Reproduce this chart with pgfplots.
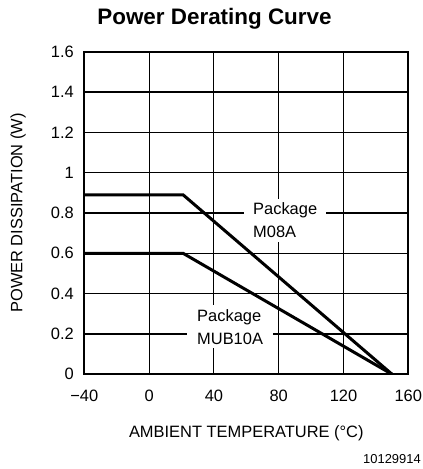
\documentclass[border=0pt]{standalone}
\usepackage{fontspec}
\setmainfont{Liberation Sans}
\usepackage{pgfplots}
\pgfplotsset{compat=1.18}

\newcommand{\lblfont}{\fontsize{16.5}{23}\selectfont}

\begin{document}
\begin{tikzpicture}
  \path[use as bounding box] (0,0) rectangle (423bp,469bp);

  % titre et numéro de figure
  \node[anchor=base, font=\fontsize{22.5}{27}\selectfont\bfseries] at (214.5bp,444bp) {Power Derating Curve};
  \node[anchor=base east, inner sep=0pt, font=\fontsize{13}{15}\selectfont] at (421bp,6bp) {10129914};

  \begin{axis}[
    at={(84.3bp,94.7bp)}, anchor=south west,
    scale only axis, width=324bp, height=322.6bp,
    xmin=-40, xmax=160, ymin=0, ymax=1.6,
    xtick={-40,0,40,80,120,160},
    xticklabels={−40,0,40,80,120,160},
    ytick={0,0.2,0.4,0.6,0.8,1,1.2,1.4,1.6},
    grid=major,
    major grid style={black, line width=1.1bp},
    axis line style={line width=1.8bp},
    major tick length=0pt,
    /pgf/number format/assume math mode=true,
    tick label style={font=\lblfont},
    xticklabel style={anchor=base, yshift=-27.4bp},
    yticklabel style={anchor=east, inner sep=0pt, xshift=-10.3bp,
      /pgf/number format/fixed, /pgf/number format/precision=1},
    xlabel={AMBIENT TEMPERATURE (°C)},
    ylabel={POWER DISSIPATION (W)},
    xlabel style={at={(axis description cs:0.5,-0.1944)}, anchor=base, font=\lblfont},
    ylabel style={at={(axis description cs:-0.2046,0.5)}, anchor=center, font=\lblfont},
  ]

  % étiquettes des boîtiers (fond blanc qui coupe la grille)
  \node[fill=white, align=left, inner xsep=9bp, inner ysep=4bp, font=\lblfont]
    at (axis cs:84,0.763) {Package\\M08A};
  \node[fill=white, align=left, inner xsep=10bp, inner ysep=4bp, font=\lblfont]
    at (axis cs:50,0.235) {Package\\MUB10A};

  % courbes de déclassement
  \addplot[black, line width=3bp] coordinates {(-40,0.89) (21,0.89) (150,0)};
  \addplot[black, line width=3bp] coordinates {(-40,0.6) (21,0.6) (150,0)};

  \end{axis}
\end{tikzpicture}
\end{document}
